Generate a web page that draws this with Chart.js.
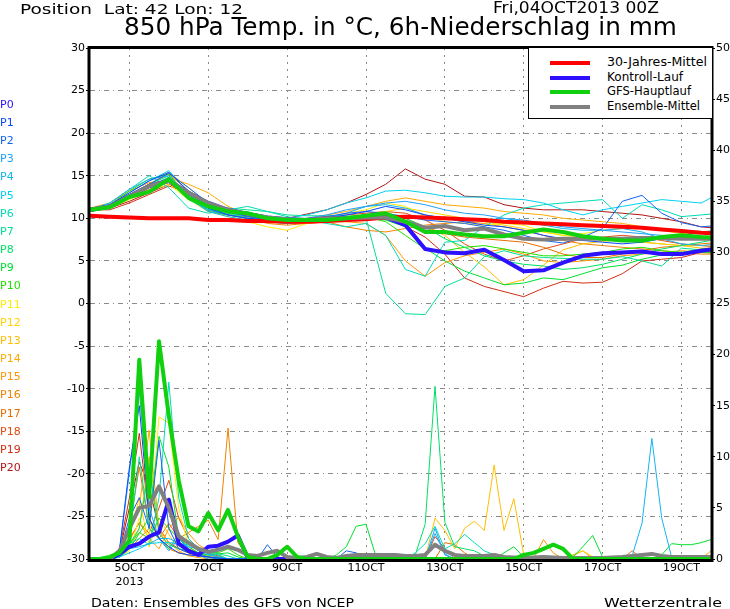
<!DOCTYPE html>
<html>
<head>
<meta charset="utf-8">
<script src="https://cdn.jsdelivr.net/npm/chart.js@4.4.0/dist/chart.umd.min.js"></script>
<style>
  html, body { margin: 0; padding: 0; background: #fff; }
  #wrap { position: relative; width: 730px; height: 609px; overflow: hidden; font-family: "DejaVu Sans", sans-serif; }
  #wrap canvas { position: absolute; left: 0; top: 0; }
  .t { position: absolute; white-space: pre; line-height: 1; transform-origin: 0 0; color: #000; }
  .mem { position: absolute; left: 0; font-size: 11px; line-height: 1; white-space: pre; }
  #legend { position: absolute; left: 528px; top: 48px; width: 183px; height: 70px; border-left: 1px solid #000; border-bottom: 1px solid #000; background: #fff; }
  #legend .ln { position: absolute; left: 21px; width: 40px; height: 4px; }
</style>
</head>
<body>
<div id="wrap">
  <canvas id="chart" width="730" height="609"></canvas>
  <div class="t" id="pos" style="top:2px;font-size:14px;">Position  Lat: 42 Lon: 12</div>
  <div class="t" id="date" style="top:1px;font-size:15px;">Fri,04OCT2013 00Z</div>
  <div class="t" id="title" style="top:15px;font-size:24.7px;">850 hPa Temp. in °C, 6h-Niederschlag in mm</div>
  <div id="members"></div>
  <div id="legend"></div>
  <div class="t" id="foot" style="top:596px;font-size:13px;">Daten: Ensembles des GFS von NCEP</div>
  <div class="t" id="wz" style="top:596px;font-size:13px;">Wetterzentrale</div>
</div>
<script>
// time axis in hours from 04OCT2013 00Z
const hours12 = [0, 12, 24, 36, 48, 60, 72, 84, 96, 108, 120, 132, 144, 156, 168, 180, 192,
  204, 216, 228, 240, 252, 264, 276, 288, 300, 312, 324, 336, 348, 360, 372, 384];
const xTickHours = [24, 72, 120, 168, 216, 264, 312, 360];

const memberNames = ['P0', 'P1', 'P2', 'P3', 'P4', 'P5', 'P6', 'P7', 'P8', 'P9', 'P10',
  'P11', 'P12', 'P13', 'P14', 'P15', 'P16', 'P17', 'P18', 'P19', 'P20'];
const memberColors = ['#2c10ff', '#0a46ff', '#1464f0', '#1ea0ff', '#14b4f0', '#00d2f0', '#00dcb4',
  '#00e092', '#00e064', '#00e030', '#20e000', '#ffee00', '#ffd200', '#ffbe00', '#ffaa00',
  '#ff9600', '#f08200', '#e66e00', '#e04c10', '#d02e14', '#b41414'];

const legendNames = ['30-Jahres-Mittel', 'Kontroll-Lauf', 'GFS-Hauptlauf', 'Ensemble-Mittel'];
const legendColors = ['#ff0000', '#2c10ff', '#10d010', '#808080'];

// 850 hPa temperature, 12-hourly
const climTemp = [10.3, 10.2, 10.1, 10.0, 10.0, 10.0, 9.8, 9.8, 9.7, 9.7, 9.6, 9.6, 9.7, 9.8, 9.9, 10.1, 10.2,
  10.1, 10.0, 9.9, 9.8, 9.6, 9.5, 9.4, 9.3, 9.2, 9.1, 9.0, 8.9, 8.7, 8.5, 8.3, 8.2];
const mainTemp = [11.0, 11.3, 12.5, 13.1, 14.6, 12.4, 11.4, 10.8, 10.6, 10.0, 9.8, 9.8, 9.8, 10.0, 10.3, 10.6, 9.6,
  8.4, 8.4, 8.1, 7.9, 7.9, 8.3, 8.7, 8.4, 7.9, 7.6, 7.4, 7.4, 7.8, 8.0, 7.8, 7.7];
const ctrlTemp = [11.0, 11.4, 12.6, 13.8, 14.4, 13.0, 11.8, 11.0, 10.5, 10.1, 9.9, 9.8, 10.0, 10.0, 10.1, 10.1, 9.2,
  6.4, 6.0, 5.9, 6.3, 5.1, 3.8, 3.9, 4.8, 5.6, 5.9, 6.0, 6.1, 5.8, 5.8, 6.2, 6.5];
const meanTemp = [11.0, 11.4, 12.6, 13.8, 14.4, 13.0, 11.8, 11.0, 10.5, 10.1, 9.9, 9.8, 10.0, 10.0, 10.1, 10.1, 9.6,
  8.9, 9.1, 8.6, 8.8, 8.1, 7.6, 7.5, 7.6, 7.6, 7.6, 7.6, 7.7, 7.7, 7.6, 7.6, 7.6];

// members P1..P20
const memberTemp = [
  [11.0, 11.6, 13.0, 14.4, 15.4, 13.2, 11.2, 10.4, 10.0, 9.8, 9.6, 9.8, 10.0, 10.4, 10.8, 11.4, 11.0, 10.4, 10.0, 9.6, 9.2, 9.0, 8.6, 8.0, 7.6, 7.4, 7.2, 7.0, 7.2, 7.6, 8.0, 8.4, 8.6],
  [11.0, 11.4, 12.8, 14.0, 15.3, 13.6, 11.8, 10.8, 10.2, 9.8, 9.6, 9.8, 10.2, 10.6, 10.8, 10.6, 10.2, 9.8, 9.6, 9.4, 9.0, 8.6, 8.0, 7.4, 7.1, 7.8, 8.8, 12.0, 12.7, 10.6, 9.5, 9.0, 9.2],
  [10.8, 11.2, 12.6, 13.8, 14.8, 12.6, 11.0, 10.4, 10.0, 9.8, 9.8, 10.0, 10.4, 11.0, 11.4, 11.8, 12.0, 11.6, 11.0, 10.6, 10.4, 10.0, 9.8, 9.4, 9.0, 8.8, 8.6, 8.4, 8.2, 8.0, 7.8, 7.6, 7.4],
  [11.0, 11.8, 13.4, 14.6, 15.0, 12.4, 10.8, 10.2, 9.8, 9.6, 9.4, 9.6, 10.0, 10.6, 11.4, 11.6, 11.2, 10.4, 10.0, 9.6, 9.8, 10.0, 9.6, 9.2, 8.8, 8.6, 8.6, 8.8, 8.4, 7.6, 7.0, 6.8, 7.0],
  [11.0, 11.6, 13.0, 14.4, 15.6, 13.0, 11.2, 10.6, 10.2, 10.0, 10.0, 10.4, 11.0, 11.8, 12.4, 13.2, 13.3, 13.0, 12.6, 12.5, 12.5, 12.3, 12.2, 11.8, 11.0, 10.4, 11.0, 11.4, 11.8, 12.2, 12.0, 11.8, 13.0],
  [11.0, 11.8, 13.4, 15.0, 13.6, 11.2, 10.6, 11.0, 11.4, 10.8, 10.2, 9.8, 9.4, 9.0, 9.4, 8.0, 4.0, 3.2, 7.2, 7.4, 9.0, 10.4, 11.2, 11.6, 11.8, 12.0, 12.2, 10.0, 11.6, 11.0, 10.2, 10.4, 10.6],
  [11.0, 11.2, 12.4, 13.6, 14.8, 12.2, 11.0, 11.2, 11.0, 10.8, 10.4, 10.3, 10.3, 10.3, 10.0, 1.2, -1.2, -1.3, 2.0, 3.0, 5.5, 6.2, 5.6, 5.4, 5.3, 5.2, 5.2, 5.5, 5.0, 4.4, 6.5, 6.3, 6.3],
  [11.0, 11.4, 12.6, 14.0, 15.0, 12.8, 11.0, 10.4, 10.0, 9.6, 9.4, 9.6, 10.0, 10.2, 10.4, 10.6, 10.0, 9.0, 7.6, 6.6, 5.6, 5.0, 4.6, 4.4, 4.0, 4.2, 4.6, 5.2, 5.8, 6.4, 6.8, 7.2, 7.6],
  [10.8, 11.2, 12.4, 13.6, 14.6, 12.6, 11.0, 10.6, 10.4, 10.0, 9.8, 9.8, 10.0, 10.2, 10.0, 9.8, 9.0, 6.5, 5.0, 3.8, 3.0, 2.2, 2.4, 3.0, 2.8, 3.5, 4.2, 4.5, 5.2, 5.7, 6.0, 6.0, 6.0],
  [11.0, 11.6, 13.2, 14.6, 15.2, 12.4, 10.8, 10.4, 10.2, 10.0, 9.6, 9.6, 9.8, 10.2, 10.2, 9.6, 8.0, 6.4, 6.2, 6.6, 6.8, 6.4, 6.0, 5.6, 5.6, 5.8, 6.0, 6.4, 6.6, 6.2, 6.0, 6.4, 6.6],
  [11.0, 11.2, 12.2, 13.2, 14.0, 12.2, 10.8, 10.2, 9.6, 9.0, 8.6, 9.4, 10.0, 10.6, 11.0, 11.8, 11.4, 10.2, 9.6, 9.4, 9.2, 9.4, 9.2, 8.4, 8.0, 8.2, 8.6, 8.8, 9.0, 8.6, 8.2, 8.4, 8.6],
  [11.0, 11.4, 12.6, 14.0, 15.4, 13.6, 11.6, 10.6, 10.0, 9.8, 9.6, 9.8, 10.0, 10.2, 10.4, 10.8, 11.2, 10.8, 10.4, 10.0, 9.6, 9.2, 8.8, 8.4, 8.0, 7.8, 7.6, 7.4, 7.2, 7.0, 6.8, 6.8, 7.0],
  [11.0, 11.4, 12.6, 13.8, 14.6, 13.0, 11.2, 10.6, 10.2, 9.8, 9.6, 9.8, 10.0, 10.2, 10.4, 10.2, 9.5, 9.0, 8.0, 6.0, 4.3, 2.2, 2.8, 4.5, 6.3, 7.0, 7.3, 7.5, 7.2, 7.0, 6.8, 6.5, 6.5],
  [11.0, 11.4, 12.6, 13.6, 14.8, 14.0, 13.0, 11.4, 10.4, 10.0, 9.8, 10.0, 10.4, 10.8, 11.4, 12.0, 12.4, 12.0, 11.6, 11.4, 11.2, 10.8, 10.6, 10.4, 10.0, 9.8, 9.6, 9.4, 9.0, 8.8, 8.6, 8.4, 8.2],
  [11.2, 11.8, 13.2, 14.2, 14.4, 12.4, 10.8, 10.4, 10.0, 9.6, 9.4, 9.4, 9.6, 9.6, 9.4, 8.0, 5.0, 3.2, 4.8, 5.6, 6.0, 6.4, 5.8, 5.0, 4.8, 5.0, 5.2, 5.6, 5.8, 6.0, 6.2, 6.0, 5.8],
  [10.8, 11.2, 12.4, 13.4, 14.2, 12.8, 11.4, 10.6, 10.0, 9.4, 9.2, 9.4, 9.6, 9.0, 8.6, 8.4, 8.8, 9.2, 9.4, 9.6, 9.4, 9.0, 8.6, 8.0, 7.4, 7.0, 6.8, 6.6, 6.4, 6.2, 6.0, 5.8, 5.8],
  [11.0, 11.6, 12.8, 14.0, 15.2, 13.2, 11.2, 10.6, 10.2, 9.8, 9.6, 9.6, 9.8, 9.8, 10.2, 10.4, 10.0, 9.0, 8.2, 7.8, 7.6, 7.4, 7.2, 6.6, 5.8, 5.4, 5.4, 5.8, 6.2, 6.6, 6.8, 7.0, 7.2],
  [11.0, 11.4, 12.4, 13.6, 14.6, 12.6, 11.0, 10.4, 10.0, 9.8, 9.8, 10.0, 10.2, 10.4, 10.6, 10.8, 10.6, 9.8, 8.6, 7.0, 5.8, 5.0, 5.6, 6.4, 7.0, 7.6, 7.8, 8.0, 7.8, 7.4, 7.0, 6.8, 6.6],
  [11.0, 11.0, 11.8, 12.8, 13.8, 13.0, 11.6, 10.7, 10.3, 9.8, 9.5, 9.8, 10.0, 10.2, 10.3, 10.3, 9.0, 7.8, 5.8, 3.0, 2.0, 1.4, 0.8, 1.8, 2.6, 2.4, 2.5, 3.5, 5.0, 5.2, 5.4, 6.0, 6.2],
  [11.0, 11.2, 12.0, 13.0, 14.0, 13.0, 11.5, 10.8, 10.3, 10.0, 10.0, 10.5, 11.0, 11.8, 12.8, 14.0, 15.8, 14.6, 14.0, 12.6, 12.5, 11.6, 11.2, 11.0, 11.0, 11.0, 10.8, 10.6, 10.4, 10.0, 9.6, 9.0, 8.8]
];

// 6h precipitation, [hour, mm]
const mainRain = [[0, 0], [6, 0], [12, 0.2], [18, 0.6], [24, 1.8], [30, 19.5], [36, 6.0], [42, 21.3], [48, 14.0],
  [54, 7.7], [60, 3.2], [66, 2.7], [72, 4.5], [78, 2.8], [84, 4.8], [90, 2.2], [96, 0.2], [102, 0], [108, 0],
  [114, 0.4], [120, 1.2], [126, 0.2], [132, 0], [258, 0], [264, 0.4], [270, 0.6], [276, 1.0], [282, 1.4],
  [288, 1.0], [294, 0], [384, 0]];
const ctrlRain = [[0, 0], [6, 0], [12, 0], [18, 0.5], [24, 1.2], [30, 1.5], [36, 2.2], [42, 2.6], [48, 5.8],
  [54, 1.5], [60, 0.8], [66, 0.4], [72, 1.2], [78, 1.3], [84, 1.7], [90, 2.3], [96, 0.1], [102, 0], [384, 0]];
const meanRain = [[0, 0], [6, 0], [12, 0], [18, 0.8], [24, 3.0], [30, 5.0], [36, 5.2], [42, 7.1], [48, 5.0],
  [54, 2.2], [60, 1.6], [66, 1.0], [72, 0.7], [78, 0.9], [84, 1.2], [90, 0.9], [96, 0.4], [102, 0.3], [108, 0.6],
  [114, 0.8], [120, 0.2], [126, 0.1], [132, 0.2], [138, 0.5], [144, 0.2], [150, 0.1], [156, 0.3], [162, 0.4],
  [168, 0.4], [174, 0.4], [180, 0.4], [186, 0.4], [192, 0.3], [198, 0.3], [204, 0.4], [210, 1.4], [216, 0.8],
  [222, 0.4], [228, 0.3], [240, 0.3], [246, 0.4], [252, 0.2], [264, 0.1], [276, 0.2], [288, 0.1], [312, 0.1],
  [324, 0.2], [336, 0.4], [342, 0.5], [348, 0.3], [354, 0.2], [378, 0.2]];

const memberRain = [
  [[0, 0], [12, 0], [18, 1.0], [24, 9.0], [30, 15.0], [36, 4.0], [42, 2.0], [48, 1.2], [54, 0.6], [60, 0.4], [72, 0.2], [84, 0], [156, 0], [162, 0.3], [168, 0], [384, 0]],
  [[0, 0], [12, 0], [18, 0.6], [24, 4.0], [30, 6.0], [36, 3.0], [42, 11.6], [48, 3.0], [54, 1.0], [60, 0.6], [66, 0.4], [72, 0.2], [78, 0], [102, 0], [108, 1.4], [114, 0.2], [120, 0], [150, 0], [156, 0.8], [162, 0.6], [168, 0], [384, 0]],
  [[0, 0], [12, 0], [18, 0.8], [24, 8.5], [30, 16.5], [36, 5.0], [42, 2.0], [48, 0.8], [54, 2.0], [60, 1.0], [66, 0.4], [72, 0], [204, 0], [210, 3.0], [216, 0.4], [222, 0], [384, 0]],
  [[0, 0], [12, 0], [18, 0.2], [24, 1.0], [30, 1.2], [36, 1.5], [42, 2.0], [48, 2.0], [54, 1.6], [60, 1.2], [66, 1.0], [72, 0.5], [78, 0.2], [84, 0], [204, 0], [210, 2.5], [216, 0.5], [222, 0], [324, 0], [330, 0.3], [336, 3.5], [342, 11.8], [348, 4.0], [354, 0.2], [360, 0], [384, 0]],
  [[0, 0], [12, 0], [18, 0.2], [24, 0.6], [30, 1.0], [36, 1.5], [42, 1.6], [48, 1.6], [54, 1.5], [60, 1.4], [66, 0.8], [72, 0.4], [84, 0], [384, 0]],
  [[0, 0], [12, 0], [18, 0.3], [24, 1.5], [30, 2.0], [36, 1.4], [42, 6.0], [48, 17.3], [54, 6.0], [60, 2.0], [66, 1.0], [72, 0.6], [78, 0.4], [84, 0], [192, 0], [198, 0.6], [204, 1.5], [210, 3.2], [216, 1.0], [222, 1.5], [228, 2.4], [234, 1.6], [240, 0.8], [246, 0.4], [252, 0], [384, 0]],
  [[0, 0], [12, 0], [18, 0.3], [24, 2.0], [30, 10.0], [36, 3.0], [42, 2.0], [48, 1.0], [54, 2.5], [60, 1.6], [66, 1.0], [72, 0.8], [78, 0.5], [84, 0.3], [90, 0], [384, 0]],
  [[0, 0], [12, 0], [18, 0.2], [24, 1.4], [30, 3.0], [36, 9.0], [42, 2.5], [48, 1.4], [54, 1.0], [60, 0.8], [66, 0.6], [72, 0.2], [78, 0], [192, 0], [198, 0.4], [204, 3.4], [210, 16.9], [216, 3.6], [222, 1.2], [228, 1.0], [234, 0.8], [240, 0.3], [246, 0], [384, 0]],
  [[0, 0], [12, 0], [18, 0.2], [24, 1.0], [30, 2.5], [36, 4.0], [42, 12.0], [48, 9.0], [54, 2.0], [60, 1.2], [66, 0.6], [72, 0.4], [84, 0.6], [90, 0.2], [96, 0], [144, 0], [150, 0.4], [156, 1.2], [162, 3.2], [168, 3.4], [174, 0.3], [180, 0], [246, 0], [252, 0.6], [258, 1.2], [264, 0.2], [270, 0], [294, 0.2], [300, 1.2], [306, 2.3], [312, 0.2], [318, 0], [342, 0], [348, 0.4], [354, 1.5], [360, 1.4], [366, 1.4], [372, 1.6], [378, 1.9]],
  [[0, 0], [12, 0], [18, 0.3], [24, 1.5], [30, 2.6], [36, 2.0], [42, 4.0], [48, 3.0], [54, 2.0], [60, 1.4], [66, 1.0], [72, 0.8], [78, 0.6], [84, 1.0], [90, 0.4], [96, 0], [384, 0]],
  [[0, 0], [12, 0], [18, 0.2], [24, 0.8], [30, 4.0], [36, 2.0], [42, 13.9], [48, 13.3], [54, 5.0], [60, 1.2], [66, 0.6], [72, 0.2], [78, 0], [384, 0]],
  [[0, 0], [12, 0], [18, 0.4], [24, 2.2], [30, 6.0], [36, 1.2], [42, 4.0], [48, 2.4], [54, 1.0], [60, 0.6], [72, 0.3], [84, 0], [288, 0], [294, 0.3], [300, 0.8], [306, 0.2], [312, 0], [384, 0]],
  [[0, 0], [12, 0], [18, 0.2], [24, 1.0], [30, 3.0], [36, 10.0], [42, 3.0], [48, 1.0], [54, 0.6], [60, 0.4], [72, 0.2], [84, 0], [204, 0], [210, 4.0], [216, 2.8], [222, 1.0], [228, 3.0], [234, 3.7], [240, 2.8], [246, 9.2], [252, 2.8], [258, 5.9], [264, 0.4], [270, 0], [384, 0]],
  [[0, 0], [12, 0], [18, 0.5], [24, 3.0], [30, 5.0], [36, 12.6], [42, 3.0], [48, 1.6], [54, 0.8], [60, 0.3], [72, 0], [288, 0], [294, 0.4], [300, 0.8], [306, 0], [372, 0], [378, 0.8]],
  [[0, 0], [12, 0], [18, 0.3], [24, 1.8], [30, 3.6], [36, 2.0], [42, 1.0], [48, 3.0], [54, 4.1], [60, 2.5], [66, 1.4], [72, 0.8], [78, 0.4], [84, 0], [270, 0], [276, 1.9], [282, 0.6], [288, 0], [384, 0]],
  [[0, 0], [12, 0], [18, 0.2], [24, 1.0], [30, 2.0], [36, 3.0], [42, 2.0], [48, 1.2], [54, 2.0], [60, 2.6], [66, 3.2], [72, 3.8], [78, 1.9], [84, 12.8], [90, 1.6], [96, 0.3], [102, 0], [384, 0]],
  [[0, 0], [12, 0], [18, 0.4], [24, 3.0], [30, 9.0], [36, 3.0], [42, 2.0], [48, 3.5], [54, 2.0], [60, 1.0], [66, 0.6], [72, 0.4], [78, 0.2], [84, 0], [210, 0], [216, 1.6], [222, 1.4], [228, 0.6], [234, 0], [324, 0], [330, 0.8], [336, 0], [384, 0]],
  [[0, 0], [12, 0], [18, 0.6], [24, 2.0], [30, 3.5], [36, 2.5], [42, 5.0], [48, 7.7], [54, 4.0], [60, 2.0], [66, 1.0], [72, 0.6], [78, 0.3], [84, 0], [138, 0], [144, 0.2], [150, 0], [204, 0], [210, 2.2], [216, 1.0], [222, 0], [384, 0]],
  [[0, 0], [12, 0], [18, 1.0], [24, 6.0], [30, 12.3], [36, 4.0], [42, 2.0], [48, 1.0], [54, 0.6], [60, 0.4], [72, 0.2], [84, 0], [384, 0]],
  [[0, 0], [12, 0], [18, 0.8], [24, 5.0], [30, 9.5], [36, 7.0], [42, 3.0], [48, 1.6], [54, 1.0], [60, 0.6], [72, 0.3], [84, 0], [384, 0]]
];

const toPoints12 = arr => hours12.map((h, i) => ({ x: h, y: arr[i] }));
const toPointsPairs = pairs => pairs.map(([h, v]) => ({ x: h, y: v }));

const datasets = [];

memberTemp.forEach((arr, i) => {
  datasets.push({ data: toPoints12(arr), yAxisID: 'y', borderColor: memberColors[i + 1], borderWidth: 1, order: 10 });
});
memberRain.forEach((pairs, i) => {
  datasets.push({ data: toPointsPairs(pairs), yAxisID: 'y1', borderColor: memberColors[i + 1], borderWidth: 1, order: 10 });
});

// lower order is drawn later (on top)
const thick = (data, axis, color, order) => ({
  data, yAxisID: axis, borderColor: color, borderWidth: 4, order, borderJoinStyle: 'round', borderCapStyle: 'round'
});
datasets.push(thick(toPoints12(ctrlTemp), 'y', legendColors[1], 5));
datasets.push(thick(toPointsPairs(ctrlRain), 'y1', legendColors[1], 5));
datasets.push(thick(toPoints12(climTemp), 'y', legendColors[0], 4));
datasets.push(thick(toPoints12(meanTemp), 'y', legendColors[3], 3));
datasets.push(thick(toPointsPairs(meanRain), 'y1', legendColors[3], 3));
datasets.push(thick(toPoints12(mainTemp), 'y', legendColors[2], 2));
datasets.push(thick(toPointsPairs(mainRain), 'y1', legendColors[2], 2));

const framePlugin = {
  id: 'frame',
  afterDatasetsDraw(chart) {
    const { ctx, chartArea: a } = chart;
    ctx.save();
    ctx.strokeStyle = '#000';
    ctx.lineWidth = 3;
    ctx.strokeRect(a.left - 1, a.top - 0.5, a.right - a.left + 2, a.bottom - a.top + 2);
    ctx.restore();
  }
};

const tickFont = { family: 'DejaVu Sans', size: 11 };

new Chart(document.getElementById('chart'), {
  type: 'line',
  data: { datasets },
  options: {
    responsive: false,
    animation: false,
    events: [],
    layout: { padding: { top: 48, left: 0, right: 0, bottom: 0 } },
    elements: { point: { radius: 0 }, line: { tension: 0, fill: false } },
    plugins: { legend: { display: false }, tooltip: { enabled: false } },
    scales: {
      x: {
        type: 'linear', min: 0, max: 378,
        afterBuildTicks: s => { s.ticks = xTickHours.map(v => ({ value: v })); },
        afterFit: s => { s.height = 50; },
        ticks: {
          autoSkip: false, maxRotation: 0, color: '#000', font: tickFont, padding: 3,
          callback: v => {
            const lbl = (4 + v / 24) + 'OCT';
            return v === 24 ? [lbl, '2013'] : lbl;
          }
        },
        grid: { color: '#8a8a8a', drawTicks: false },
        border: { display: false, dash: [2, 5] }
      },
      y: {
        position: 'left', min: -30, max: 30,
        afterFit: s => { s.width = 90; },
        ticks: { stepSize: 5, color: '#000', font: tickFont, padding: 1 },
        grid: { color: '#8a8a8a', tickLength: 4, tickColor: '#000' },
        border: { display: false, dash: [5, 4, 1, 4] }
      },
      y1: {
        position: 'right', min: 0, max: 50,
        afterFit: s => { s.width = 19; },
        ticks: { stepSize: 5, color: '#000', font: tickFont, padding: 1 },
        grid: { drawOnChartArea: false, tickLength: 4, tickColor: '#000' },
        border: { display: false }
      }
    }
  },
  plugins: [framePlugin]
});

// member labels on the left
const memBox = document.getElementById('members');
memberNames.forEach((name, i) => {
  const d = document.createElement('div');
  d.className = 'mem';
  d.style.top = (98.7 + i * 18.17).toFixed(1) + 'px';
  d.style.color = memberColors[i];
  d.textContent = name;
  memBox.appendChild(d);
});

// legend box
const leg = document.getElementById('legend');
const legY = [63, 78, 92, 107];
const legRight = [706, 682, 690, 699];
legendNames.forEach((name, i) => {
  const ln = document.createElement('div');
  ln.className = 'ln';
  ln.style.top = (legY[i] - 48 - 2) + 'px';
  ln.style.background = legendColors[i];
  leg.appendChild(ln);
  const tx = document.createElement('div');
  tx.className = 't';
  tx.id = 'leg' + i;
  tx.style.fontSize = '11.5px';
  tx.style.top = (legY[i] - 48 - 6) + 'px';
  tx.textContent = name;
  leg.appendChild(tx);
});

function fit(el, left, right) {
  el.style.left = left + 'px';
  const w = el.getBoundingClientRect().width;
  el.style.transform = 'scaleX(' + ((right - left) / w).toFixed(3) + ')';
}
fit(document.getElementById('pos'), 20, 243);
fit(document.getElementById('date'), 493, 659);
fit(document.getElementById('title'), 124, 677);
fit(document.getElementById('foot'), 91, 354);
fit(document.getElementById('wz'), 604, 722);
legendNames.forEach((n, i) => fit(document.getElementById('leg' + i), 606 - 528, legRight[i] - 528));
</script>
</body>
</html>
